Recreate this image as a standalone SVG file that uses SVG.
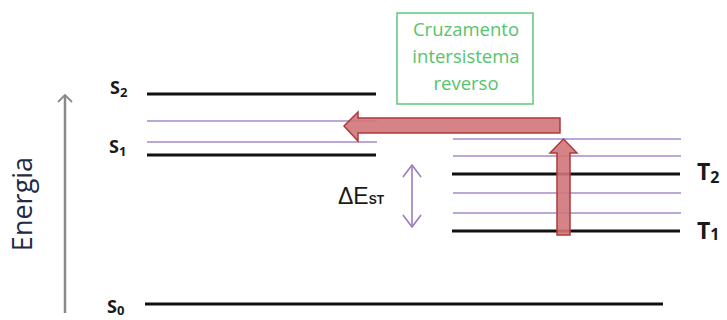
<svg xmlns="http://www.w3.org/2000/svg" width="727" height="320" viewBox="0 0 727 320">
  <defs>
    <style>
      .lvl { stroke: #111; stroke-width: 3; }
      .vib { stroke: #a58bc9; stroke-width: 1.5; }
      .lbl { font-family: "Open Sans", "Liberation Sans", sans-serif; font-weight: bold; fill: #1a1a1a; }
      .s { font-size: 18px; }
      .t { font-size: 23px; }
      .box-text { font-family: "Open Sans", "Liberation Sans", sans-serif; font-size: 18.5px; fill: #55c46c; text-anchor: middle; }
      .red { fill: #d2767a; stroke: #b0383d; stroke-width: 1.5; fill-opacity: 0.9; }
    </style>
    <marker id="gray-head" viewBox="0 0 10 16" refX="9" refY="8" markerWidth="10" markerHeight="16" markerUnits="userSpaceOnUse" orient="auto-start-reverse">
      <path d="M2,1 L9,8 L2,15" fill="none" stroke="#8a8a8a" stroke-width="1.8"/>
    </marker>
    <marker id="purple-head" viewBox="0 0 14 20" refX="13" refY="10" markerWidth="14" markerHeight="20" markerUnits="userSpaceOnUse" orient="auto-start-reverse">
      <path d="M1,1 L13,10 L1,19" fill="none" stroke="#9a7cc4" stroke-width="1.6"/>
    </marker>
  </defs>

  <rect width="727" height="320" fill="#ffffff"/>

  <!-- energy axis -->
  <g id="axis">
    <line x1="65" y1="313" x2="65" y2="95" stroke="#8a8a8a" stroke-width="2.5" marker-end="url(#gray-head)"/>
    <text transform="translate(32,204) rotate(-90)" font-family="Open Sans, Liberation Sans, sans-serif" font-size="27" fill="#1f2a44" text-anchor="middle">Energia</text>
  </g>

  <!-- singlet manifold -->
  <g id="singlets">
    <line class="lvl" x1="147" y1="94" x2="376" y2="94"/>
    <line class="vib" x1="147" y1="121" x2="377" y2="121"/>
    <line class="vib" x1="147" y1="142" x2="377" y2="142"/>
    <line class="lvl" x1="147" y1="155" x2="376" y2="155"/>
    <text class="lbl s" x="110" y="94">S<tspan font-size="13" dy="3">2</tspan></text>
    <text class="lbl s" x="109" y="153">S<tspan font-size="13" dy="3">1</tspan></text>
  </g>

  <!-- ground state -->
  <g id="ground">
    <line class="lvl" x1="145" y1="304" x2="663" y2="304"/>
    <text class="lbl s" x="107" y="313">S<tspan font-size="13" dy="2">0</tspan></text>
  </g>

  <!-- triplet manifold -->
  <g id="triplets">
    <line class="vib" x1="453" y1="139" x2="681" y2="139"/>
    <line class="vib" x1="453" y1="156" x2="681" y2="156"/>
    <line class="lvl" x1="452" y1="174" x2="680" y2="174"/>
    <line class="vib" x1="453" y1="193" x2="681" y2="193"/>
    <line class="vib" x1="453" y1="213" x2="681" y2="213"/>
    <line class="lvl" x1="452" y1="231" x2="680" y2="231"/>
    <text class="lbl t" x="697" y="180">T<tspan font-size="16" dy="3">2</tspan></text>
    <text class="lbl t" x="697" y="239">T<tspan font-size="16" dy="1">1</tspan></text>
  </g>

  <!-- singlet-triplet gap -->
  <g id="gap">
    <line x1="412" y1="165" x2="412" y2="227" stroke="#9a7cc4" stroke-width="1.6" marker-start="url(#purple-head)" marker-end="url(#purple-head)"/>
    <text x="338" y="204" font-family="Liberation Sans, Arial, sans-serif" font-size="23" fill="#1a1a1a">ΔE<tspan font-size="12" font-weight="bold">ST</tspan></text>
  </g>

  <!-- caption box -->
  <g id="risc-label">
    <rect x="397" y="13" width="136" height="91" fill="#ffffff" stroke="#5cc97a" stroke-width="1.5"/>
    <text class="box-text" x="466" y="36">Cruzamento</text>
    <text class="box-text" x="466" y="63">intersistema</text>
    <text class="box-text" x="466" y="90">reverso</text>
  </g>

  <!-- transition arrows -->
  <g id="connectors">
    <path class="red" d="M557,235 L557,153 L550,153 L563.5,139 L577,153 L570,153 L570,235 Z"/>
    <path class="red" d="M560,118 L560,133 L358,133 L358,141 L344,126 L358,112 L358,118 Z"/>
  </g>
</svg>
